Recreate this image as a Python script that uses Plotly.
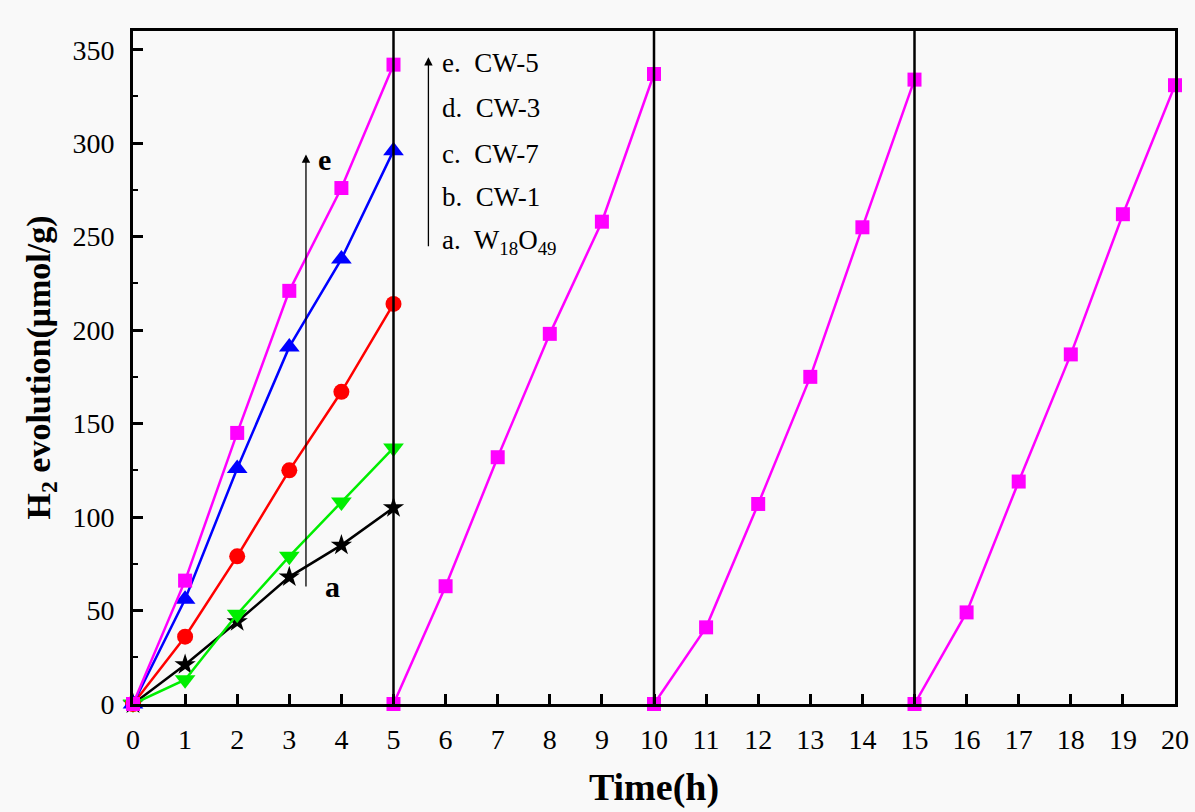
import plotly.graph_objects as go

# Data
t_first = [0, 1, 2, 3, 4, 5]
cw5_run1 = [0, 66, 145, 221, 276, 342]
cw3 = [0, 56, 126, 191, 238, 296]
cw7 = [0, 36, 79, 125, 167, 214]
cw1 = [0, 13, 48, 79, 108, 137]
w18o49 = [0, 21, 44, 68, 85, 105]

t_run2 = [5, 6, 7, 8, 9, 10]
cw5_run2 = [0, 63, 132, 198, 258, 337]
t_run3 = [10, 11, 12, 13, 14, 15]
cw5_run3 = [0, 41, 107, 175, 255, 334]
t_run4 = [15, 16, 17, 18, 19, 20]
cw5_run4 = [0, 49, 119, 187, 262, 331]

cycle_bounds = [5, 10, 15]
legend_labels = ["e.  CW-5", "d.  CW-3", "c.  CW-7", "b.  CW-1",
                 "a.  W<sub>18</sub>O<sub>49</sub>"]

MAG = "#ff00ff"
FONT = "Liberation Serif"

fig = go.Figure()

def add(x, y, color, symbol, size):
    fig.add_trace(go.Scatter(
        x=x, y=y, mode="lines+markers",
        line=dict(color=color, width=2.5),
        marker=dict(color=color, symbol=symbol, size=size),
        cliponaxis=False, showlegend=False))

add(t_first, w18o49, "black", "star", 16)
add(t_first, cw1, "#00ee00", "triangle-down", 18)
add(t_first, cw7, "red", "circle", 16)
add(t_first, cw3, "blue", "triangle-up", 18)
add(t_first, cw5_run1, MAG, "square", 14)
add(t_run2, cw5_run2, MAG, "square", 14)
add(t_run3, cw5_run3, MAG, "square", 14)
add(t_run4, cw5_run4, MAG, "square", 14)

shapes = []
for xb in cycle_bounds:
    shapes.append(dict(type="line", xref="x", yref="paper", x0=xb, x1=xb, y0=0, y1=1,
                       line=dict(color="black", width=2.5)))
fig.update_layout(shapes=shapes)

annotations = []
# Arrow a -> e
annotations.append(dict(x=3.32, y=294, ax=3.32, ay=62, xref="x", yref="y", axref="x", ayref="y",
                        showarrow=True, arrowhead=2, arrowsize=1.3, arrowwidth=1.3,
                        arrowcolor="black", text=""))
annotations.append(dict(x=3.68, y=291, xref="x", yref="y", text="<b>e</b>", showarrow=False,
                        font=dict(family=FONT, size=30, color="black")))
annotations.append(dict(x=3.83, y=63, xref="x", yref="y", text="<b>a</b>", showarrow=False,
                        font=dict(family=FONT, size=30, color="black")))
# Legend arrow
annotations.append(dict(x=5.67, y=346, ax=5.67, ay=244, xref="x", yref="y", axref="x", ayref="y",
                        showarrow=True, arrowhead=2, arrowsize=1.3, arrowwidth=1.3,
                        arrowcolor="black", text=""))
leg_y = [343, 319, 294, 271, 247]
for lab, yy in zip(legend_labels, leg_y):
    annotations.append(dict(x=5.9, y=yy, xref="x", yref="y", xanchor="left", text=lab,
                            showarrow=False, font=dict(family=FONT, size=27, color="black")))
fig.update_layout(annotations=annotations)

fig.update_layout(
    width=1195, height=812,
    margin=dict(l=133, r=6, t=31, b=108),
    paper_bgcolor="#f9f9f9", plot_bgcolor="#f9f9f9",
    font=dict(family=FONT, color="black"),
    xaxis=dict(range=[0, 20], tickmode="linear", tick0=0, dtick=1,
               ticks="inside", ticklen=10, tickwidth=2.5, tickcolor="black",
               ticklabelstandoff=8, ticklabeloverflow="allow",
               showline=True, linecolor="black", linewidth=3, mirror=True,
               showgrid=False, zeroline=False,
               tickfont=dict(family=FONT, size=28),
               title=dict(text="<b>Time(h)</b>", font=dict(family=FONT, size=38), standoff=20)),
    yaxis=dict(range=[0, 360], tickmode="linear", tick0=0, dtick=50,
               ticks="inside", ticklen=10, tickwidth=2.5, tickcolor="black",
               ticklabelstandoff=10,
               minor=dict(dtick=25, ticks="inside", ticklen=5, tickwidth=2, tickcolor="black"),
               showline=True, linecolor="black", linewidth=3, mirror=True,
               showgrid=False, zeroline=False,
               tickfont=dict(family=FONT, size=28),
               title=dict(text="<b>H<sub>2</sub> evolution(μmol/g)</b>",
                          font=dict(family=FONT, size=34), standoff=12)),
)

fig.write_html(
    "out.html",
    config={"displayModeBar": False},
    post_script=("document.documentElement.style.margin='0';"
                 "document.body.style.margin='0';"
                 "document.documentElement.style.overflow='hidden';"
                 "document.body.style.overflow='hidden';"),
)
